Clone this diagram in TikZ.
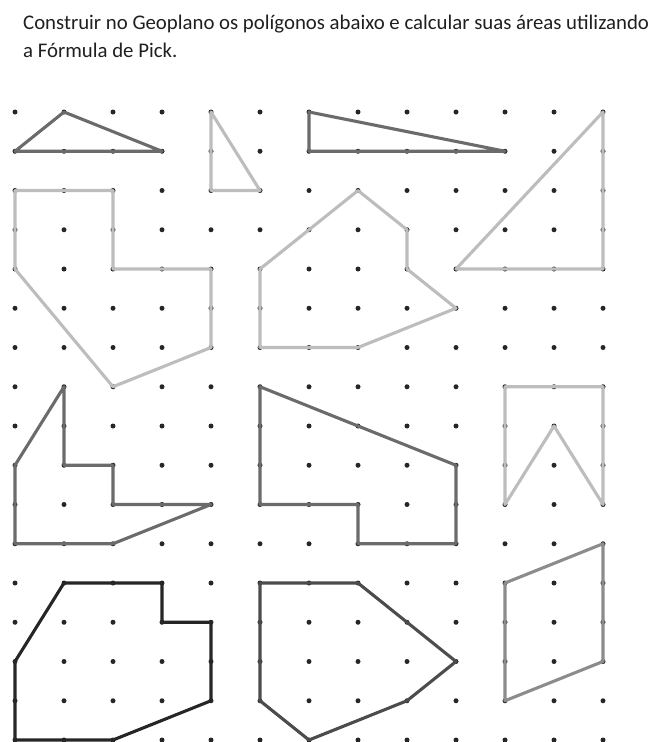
\documentclass[tikz,border=0pt]{standalone}
\usepackage{fontspec}
\setmainfont{Carlito}
\usepackage{tikz}

\begin{document}
\begin{tikzpicture}[x=1pt,y=1pt,
    pin/.style={fill=black!85,circle,inner sep=0pt,minimum size=5pt},
    band/.style={line width=3.1pt,line join=round,line cap=round},
    light/.style={band,draw=black!26},
    medium/.style={band,draw=black!45},
    dark/.style={band,draw=black!58},
    black/.style={band,draw=black!85},
    heading/.style={anchor=base west,inner sep=0pt,text=black!88,
        font=\fontsize{20.8}{25}\selectfont}]
    \useasboundingbox (0,0) rectangle (654,-742);
    \node[heading] (title) at (23,-29)
        {Construir no Geoplano os polígonos abaixo e calcular suas áreas utilizando};
    \node[heading] (subtitle) at (23,-57) {a Fórmula de Pick.};
    \begin{scope}[shift={(15,-112)},x=49pt,y=-39.25pt]
        % geoplano
        \foreach \i in {0,...,12}
            \foreach \j in {0,...,16}
                \node[pin] (p-\i-\j) at (\i,\j) {};
        % primeira linha
        \draw[dark] (p-0-1.center) -- (p-1-0.center) -- (p-3-1.center) -- cycle;
        \draw[light] (p-4-0.center) -- (p-4-2.center) -- (p-5-2.center) -- cycle;
        \draw[dark] (p-6-0.center) -- (p-6-1.center) -- (p-10-1.center) -- cycle;
        \draw[light] (p-9-4.center) -- (p-12-0.center) -- (p-12-4.center) -- cycle;
        % segunda linha
        \draw[light] (p-0-2.center) -- (p-2-2.center) -- (p-2-4.center) -- (p-4-4.center)
            -- (p-4-6.center) -- (p-2-7.center) -- (p-0-4.center) -- cycle;
        \draw[light] (p-5-4.center) -- (p-7-2.center) -- (p-8-3.center) -- (p-8-4.center)
            -- (p-9-5.center) -- (p-7-6.center) -- (p-5-6.center) -- cycle;
        % terceira linha
        \draw[dark] (p-1-7.center) -- (p-1-9.center) -- (p-2-9.center) -- (p-2-10.center)
            -- (p-4-10.center) -- (p-2-11.center) -- (p-0-11.center) -- (p-0-9.center) -- cycle;
        \draw[dark] (p-5-7.center) -- (p-9-9.center) -- (p-9-11.center) -- (p-7-11.center)
            -- (p-7-10.center) -- (p-5-10.center) -- cycle;
        \draw[light] (p-10-7.center) -- (p-12-7.center) -- (p-12-10.center) -- (p-11-8.center)
            -- (p-10-10.center) -- cycle;
        % quarta linha
        \draw[black] (p-1-12.center) -- (p-3-12.center) -- (p-3-13.center) -- (p-4-13.center)
            -- (p-4-15.center) -- (p-2-16.center) -- (p-0-16.center) -- (p-0-14.center) -- cycle;
        \draw[dark,draw=black!70] (p-5-12.center) -- (p-7-12.center) -- (p-9-14.center)
            -- (p-8-15.center) -- (p-6-16.center) -- (p-5-15.center) -- cycle;
        \draw[medium] (p-10-12.center) -- (p-12-11.center) -- (p-12-14.center)
            -- (p-10-15.center) -- cycle;
    \end{scope}
\end{tikzpicture}
\end{document}
